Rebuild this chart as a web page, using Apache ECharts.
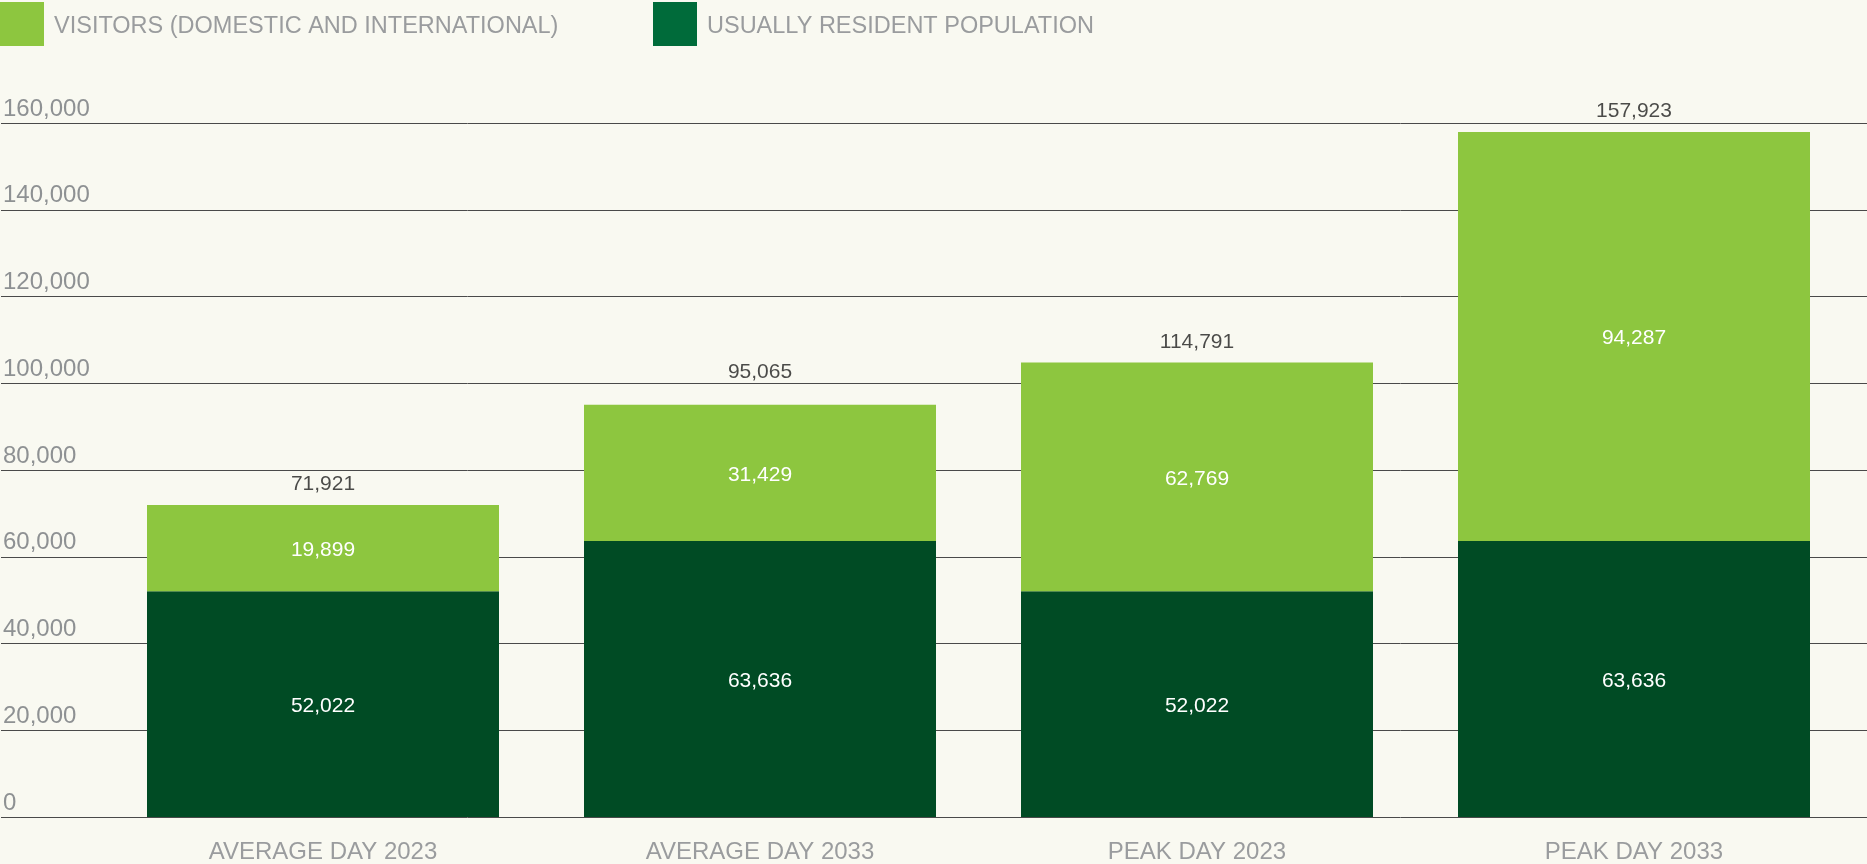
<!DOCTYPE html>
<html>
<head>
<meta charset="utf-8">
<script src="https://cdn.jsdelivr.net/npm/echarts@6/dist/echarts.min.js"></script>
<style>
html,body{margin:0;padding:0;background:#f9f9f1;}
#chart{width:1867px;height:864px;}
</style>
</head>
<body>
<div id="chart"></div>
<script>
// Data
const categories = ['AVERAGE DAY 2023', 'AVERAGE DAY 2033', 'PEAK DAY 2023', 'PEAK DAY 2033'];
const residentValues = [52022, 63636, 52022, 63636];
// visitor heights as drawn (the PEAK DAY 2023 bar is drawn ~52,769 high)
const visitorValues = [19899, 31429, 52769, 94287];
const residentLabels = ['52,022', '63,636', '52,022', '63,636'];
const visitorLabels = ['19,899', '31,429', '62,769', '94,287'];
const totalLabels = ['71,921', '95,065', '114,791', '157,923'];
const yTicks = [0, 20000, 40000, 60000, 80000, 100000, 120000, 140000, 160000];

const seriesNames = ['VISITORS (DOMESTIC AND INTERNATIONAL)', 'USUALLY RESIDENT POPULATION'];
const totals = residentValues.map((v, i) => v + visitorValues[i]);
const totalLabelDistance = [10, 22, 10, 10];

const chart = echarts.init(document.getElementById('chart'));
const fontFamily = '"Liberation Sans", Arial, Helvetica, sans-serif';

const legendText = {
  color: '#9a9c9e', fontSize: 23.5, fontFamily: fontFamily,
  rich: {
    s: { width: 5, fontSize: 23.5 },
    t: { color: '#9a9c9e', fontSize: 23.5, fontFamily: fontFamily, padding: [5, 0, 0, 0] }
  }
};

chart.setOption({
  backgroundColor: '#f9f9f1',
  animation: false,
  textStyle: { fontFamily: fontFamily },
  legend: [
    {
      left: 0, top: 2, padding: 0,
      itemWidth: 44, itemHeight: 44, icon: 'rect',
      formatter: '{s|\u00a0}{t|{name}}', textStyle: legendText,
      data: [{ name: seriesNames[0], itemStyle: { color: '#8dc63f' } }]
    },
    {
      left: 653, top: 2, padding: 0,
      itemWidth: 44, itemHeight: 44, icon: 'rect',
      formatter: '{s|\u00a0}{t|{name}}', textStyle: legendText,
      data: [{ name: seriesNames[1], itemStyle: { color: '#006b3a' } }]
    }
  ],
  grid: [
    { left: 0, right: 0, top: 123, bottom: 47 },
    { left: 104.5, right: 14.5, top: 123, bottom: 47 }
  ],
  xAxis: [
    { type: 'category', gridIndex: 0, data: categories, show: false },
    {
      type: 'category', gridIndex: 1, data: categories,
      axisLine: { show: false }, axisTick: { show: false },
      axisLabel: { color: '#9a9c9e', fontSize: 24, margin: 23 }
    }
  ],
  yAxis: [
    {
      type: 'value', gridIndex: 0, min: 0, max: 160000, interval: 20000,
      axisLine: { show: false }, axisTick: { show: false },
      splitLine: { lineStyle: { color: '#4a4a4a', width: 1 } },
      axisLabel: {
        inside: true, margin: 2, align: 'left', verticalAlign: 'bottom',
        color: '#8e9193', fontSize: 24, padding: [0, 0, 2, 0],
        formatter: v => yTicks.indexOf(v) >= 0 ? v.toLocaleString('en-US') : ''
      }
    },
    {
      type: 'value', gridIndex: 1, min: 0, max: 160000, interval: 20000,
      show: false
    }
  ],
  series: [
    {
      name: seriesNames[1], type: 'bar', stack: 'total', xAxisIndex: 1, yAxisIndex: 1,
      barWidth: 352, data: residentValues,
      itemStyle: { color: '#004b24' },
      label: { show: true, position: 'inside', offset: [0, 2], color: '#ffffff', fontSize: 21,
        formatter: p => residentLabels[p.dataIndex] }
    },
    {
      name: seriesNames[0], type: 'bar', stack: 'total', xAxisIndex: 1, yAxisIndex: 1,
      barWidth: 352, data: visitorValues,
      itemStyle: { color: '#8dc63f' },
      label: { show: true, position: 'inside', offset: [0, 2], color: '#ffffff', fontSize: 21,
        formatter: p => visitorLabels[p.dataIndex] }
    },
    {
      name: 'totals', type: 'scatter', xAxisIndex: 1, yAxisIndex: 1,
      symbolSize: 0, silent: true,
      data: totals.map((v, i) => ({ value: v, label: { distance: totalLabelDistance[i] } })),
      label: { show: true, position: 'top', color: '#1e1e1e', fontSize: 21,
        formatter: p => totalLabels[p.dataIndex] }
    }
  ]
});
</script>
</body>
</html>
